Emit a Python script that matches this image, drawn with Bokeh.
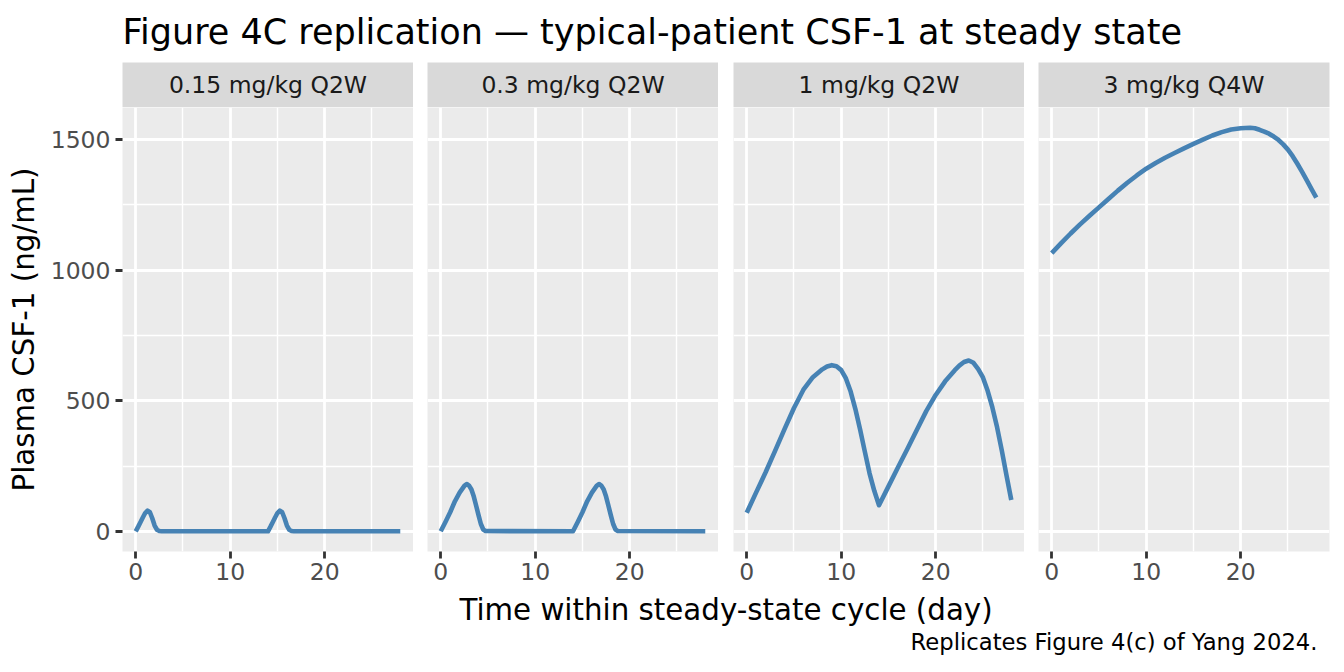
from bokeh.plotting import figure
from bokeh.layouts import row, column
from bokeh.models import Range1d, FixedTicker, Label
from bokeh.embed import file_html
from bokeh.resources import INLINE

FONT = "DejaVu Sans"

# ---------------- data ----------------
panel_titles = ["0.15 mg/kg Q2W", "0.3 mg/kg Q2W", "1 mg/kg Q2W", "3 mg/kg Q4W"]

day_p1 = [0, 0.25, 0.5, 0.75, 1.0, 1.25, 1.5, 1.75, 2.0, 2.25, 2.5, 2.75,
          14.0, 14.25, 14.5, 14.75, 15.0, 15.25, 15.5, 15.75, 16.0, 16.25, 16.5, 16.75, 28.0]
csf1_p1 = [0, 17, 35, 53, 70, 79, 73, 50, 22, 6, 1, 0,
           0, 17, 35, 53, 70, 79, 73, 50, 22, 6, 1, 0, 0]

day_p2 = [0, 0.5, 1.0, 1.5, 2.0, 2.5, 2.75, 3.0, 3.25, 3.5, 3.75, 4.0, 4.25, 4.5, 4.75,
          14.0, 14.5, 15.0, 15.5, 16.0, 16.5, 16.75, 17.0, 17.25, 17.5, 17.75, 18.0, 18.25, 18.5, 18.75, 28.0]
csf1_p2 = [0, 36, 73, 115, 148, 174, 181, 175, 160, 133, 98, 62, 28, 7, 1,
           0, 36, 73, 115, 148, 174, 181, 175, 160, 133, 98, 62, 28, 7, 1, 0]

day_p3 = [0, 1, 2, 3, 4, 5, 6, 7, 8, 8.5, 9, 9.5, 10, 10.5, 11, 11.5, 12, 12.5, 13, 13.5, 14,
          15, 16, 17, 18, 19, 20, 21, 22, 22.5, 23, 23.5, 24, 24.5, 25, 25.5, 26, 26.5, 27, 27.5, 28]
csf1_p3 = [71, 149, 226, 308, 391, 472, 542, 590, 620, 631, 636, 632, 617, 585, 535, 468, 390, 305, 222, 155, 100,
           172, 244, 315, 388, 460, 522, 574, 616, 634, 648, 654, 645, 621, 589, 538, 474, 398, 309, 213, 120]

day_p4 = [0, 1, 2, 3, 4, 5, 6, 7, 8, 9, 10, 11, 12, 13, 14, 15, 16, 17, 18, 19, 20, 21, 21.5,
          22, 22.5, 23, 23.5, 24, 24.5, 25, 25.5, 26, 26.5, 27, 27.5, 28]
csf1_p4 = [1065, 1103, 1140, 1175, 1208, 1240, 1272, 1304, 1334, 1362, 1388, 1410, 1430, 1448, 1466,
           1483, 1499, 1515, 1528, 1538, 1543, 1545, 1543,
           1537, 1530, 1522, 1511, 1498, 1481, 1461, 1436, 1407, 1376, 1343, 1310, 1277]

days = [day_p1, day_p2, day_p3, day_p4]
csf1 = [csf1_p1, csf1_p2, csf1_p3, csf1_p4]

x_ticks = [0, 10, 20]
x_minor = [5, 15, 25]
y_ticks = [0, 500, 1000, 1500]
y_minor = [250, 750, 1250]

title_text = "Figure 4C replication \u2014 typical-patient CSF-1 at steady state"
x_label = "Time within steady-state cycle (day)"
y_label = "Plasma CSF-1 (ng/mL)"
caption = "Replicates Figure 4(c) of Yang 2024."

# ---------------- scales (ggplot-like 5% expansion) ----------------
all_x = [v for d in days for v in d]
all_y = [v for c in csf1 for v in c]
xmin, xmax = min(all_x), max(all_x)
ymin, ymax = min(all_y), max(all_y)
xpad = 0.05 * (xmax - xmin)
ypad = 0.05 * (ymax - ymin)

FRAME_W = 291
FRAME_H = 444
STRIP_H = 45
LEFTS = [122, 14, 15, 14]
RIGHTS = [0, 0, 0, 14]
TOTAL_W = sum(LEFTS) + sum(RIGHTS) + 4 * FRAME_W
TITLE_H = 62
PANEL_BOTTOM = 39
BOT_H = 80

TICK_FS = "23.5px"
LINE_COL = "#4682B4"


def blank(width, height, xr, yr, **kw):
    f = figure(width=width, height=height, x_range=xr, y_range=yr,
               x_axis_location=None, y_axis_location=None, title=None,
               output_backend="svg", toolbar_location=None, **kw)
    f.grid.visible = False
    f.outline_line_color = None
    f.border_fill_color = "white"
    return f


def make_strip(i):
    s = figure(frame_width=FRAME_W, frame_height=STRIP_H,
               x_range=Range1d(0, 1), y_range=Range1d(0, 1),
               x_axis_location=None, y_axis_location=None, title=None,
               min_border_left=LEFTS[i], min_border_right=RIGHTS[i],
               min_border_top=0, min_border_bottom=0,
               output_backend="svg", toolbar_location=None)
    s.grid.visible = False
    s.background_fill_color = "#D9D9D9"
    s.border_fill_color = "white"
    s.outline_line_color = None
    s.add_layout(Label(x=0.5, y=0.5, text=panel_titles[i], text_align="center",
                       text_baseline="middle", text_font=FONT, text_font_size="23.5px",
                       text_color="#1A1A1A"))
    return s


def make_panel(i):
    show_y = i == 0
    p = figure(frame_width=FRAME_W, frame_height=FRAME_H,
               x_range=Range1d(xmin - xpad, xmax + xpad),
               y_range=Range1d(ymin - ypad, ymax + ypad),
               y_axis_location="left" if show_y else None, title=None,
               min_border_left=LEFTS[i], min_border_right=RIGHTS[i],
               min_border_top=0, min_border_bottom=PANEL_BOTTOM,
               output_backend="svg", toolbar_location=None)
    p.background_fill_color = "#EBEBEB"
    p.border_fill_color = "white"
    p.outline_line_color = None

    p.xgrid.ticker = FixedTicker(ticks=x_ticks, minor_ticks=x_minor)
    p.ygrid.ticker = FixedTicker(ticks=y_ticks, minor_ticks=y_minor)
    for g in (p.xgrid, p.ygrid):
        g.grid_line_color = "white"
        g.grid_line_width = 2.8
        g.minor_grid_line_color = "white"
        g.minor_grid_line_width = 1.4

    axes = [p.xaxis]
    p.xaxis.ticker = FixedTicker(ticks=x_ticks, minor_ticks=x_minor)
    p.xaxis.major_label_standoff = 4
    if show_y:
        p.yaxis.ticker = FixedTicker(ticks=y_ticks, minor_ticks=y_minor)
        p.yaxis.axis_label = y_label
        p.yaxis.axis_label_text_font = FONT
        p.yaxis.axis_label_text_font_size = "29.3px"
        p.yaxis.axis_label_text_font_style = "normal"
        p.yaxis.axis_label_text_color = "black"
        p.yaxis.axis_label_standoff = 7
        p.yaxis.major_label_standoff = 5
        axes.append(p.yaxis)
    for ax in axes:
        ax.axis_line_color = None
        ax.major_tick_line_color = "#333333"
        ax.major_tick_line_width = 2.8
        ax.major_tick_out = 7
        ax.major_tick_in = 0
        ax.minor_tick_line_color = None
        ax.major_label_text_font = FONT
        ax.major_label_text_font_size = TICK_FS
        ax.major_label_text_color = "#4D4D4D"

    p.line(days[i], csf1[i], line_color=LINE_COL, line_width=4.6, line_join="round")
    return p


cols = [column(make_strip(i), make_panel(i)) for i in range(4)]

title_fig = blank(TOTAL_W, TITLE_H, Range1d(0, TOTAL_W), Range1d(0, TITLE_H), min_border=0)
title_fig.add_layout(Label(x=122, y=TITLE_H - 31, text=title_text, text_align="left",
                           text_baseline="middle", text_font=FONT,
                           text_font_size="35px", text_color="black"))

# bottom strip starts at page y = TITLE_H + STRIP_H + FRAME_H + PANEL_BOTTOM
BOT_TOP = TITLE_H + STRIP_H + FRAME_H + PANEL_BOTTOM
bottom_fig = blank(TOTAL_W, BOT_H, Range1d(0, TOTAL_W), Range1d(0, BOT_H), min_border=0)
bottom_fig.add_layout(Label(x=725.5, y=BOT_H - (609 - BOT_TOP), text=x_label, text_align="center",
                            text_baseline="middle", text_font=FONT,
                            text_font_size="29.3px", text_color="black"))
bottom_fig.add_layout(Label(x=1317, y=BOT_H - (641 - BOT_TOP), text=caption, text_align="right",
                            text_baseline="middle", text_font=FONT,
                            text_font_size="22.7px", text_color="black"))

layout = column(title_fig, row(*cols), bottom_fig)

with open("out.html", "w") as f:
    f.write(file_html(layout, INLINE))
